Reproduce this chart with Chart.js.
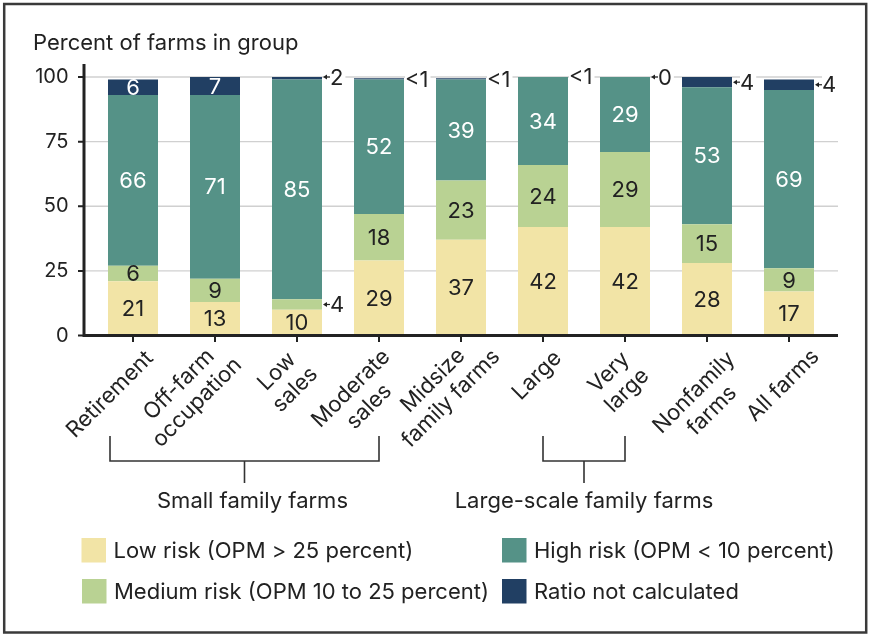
<!DOCTYPE html>
<html>
<head>
<meta charset="utf-8">
<script src="https://cdn.jsdelivr.net/npm/chart.js@4.4.1/dist/chart.umd.min.js"></script>
<style>
  html, body { margin: 0; padding: 0; background: #fff; }
  #wrap { width: 869px; height: 634px; }
</style>
</head>
<body>
<div id="wrap"><canvas id="riskChart" width="869" height="634"></canvas></div>
<script>
//==============================Data============================

const categories = [
    ['Retirement'],
    ['Off-farm', 'occupation'],
    ['Low', 'sales'],
    ['Moderate', 'sales'],
    ['Midsize', 'family farms'],
    ['Large'],
    ['Very', 'large'],
    ['Nonfamily', 'farms'],
    ['All farms']
];

const seriesNames = [
    'Low risk (OPM > 25 percent)',
    'Medium risk (OPM 10 to 25 percent)',
    'High risk (OPM < 10 percent)',
    'Ratio not calculated'
];

const lowRisk       = [21, 13, 10, 29, 37, 42, 42, 28, 17];
const mediumRisk    = [6, 9, 4, 18, 23, 24, 29, 15, 9];
const highRisk      = [66, 71, 85, 52, 39, 34, 29, 53, 69];
const notCalculated = [6, 7, 2, 0.5, 0.5, 0.5, 0, 4, 4];
const notCalculatedText = ['6', '7', '2', '<1', '<1', '<1', '0', '4', '4'];

const yTicks = [0, 25, 50, 75, 100];

const groups = [
    { text: 'Small family farms', from: 0, to: 3 },
    { text: 'Large-scale family farms', from: 5, to: 6 }
];

//==============================Look============================

const FONT = '"Inter", "Roboto", sans-serif';
const INK = '#222';
const colors = ['#f2e4a6', '#b9d293', '#559287', '#213f63'];
const textOnBar = [INK, INK, '#fff', '#fff'];

const AXIS_LEFT = 84;
const AXIS_RIGHT = 838;
const AXIS_Y = 335.5;

// where each rotated label block is centred, relative to its tick
const labelNudge = [
    [-23, 59], [-27, 58], [-11, 45], [-19, 62], [-19, 54],
    [-6, 40], [-7, 46], [-4, 66], [-6, 50]
];
const groupNudge = [{ left: -23, text: 8 }, { left: 0, text: 0 }];

//==============================Plugin============================

function drawRotated(c, lines, cx, cy) {
    const lh = 25.5;
    c.save();
    c.translate(cx, cy);
    c.rotate(-Math.PI / 4);
    c.textAlign = 'center';
    c.textBaseline = 'middle';
    lines.forEach((ln, j) => {
        c.fillText(ln, 0, (j - (lines.length - 1) / 2) * lh);
    });
    c.restore();
}

const overlay = {
    id: 'overlay',
    beforeDraw(chart) {
        const c = chart.ctx;
        c.save();
        c.fillStyle = '#fff';
        c.fillRect(0, 0, chart.width, chart.height);
        c.restore();
    },
    beforeDatasetsDraw(chart) {
        const c = chart.ctx;
        const y = chart.scales.y;
        c.save();
        c.strokeStyle = '#d0d0d0';
        c.lineWidth = 1.3;
        yTicks.forEach(v => {
            if (v === 0) return;
            const py = y.getPixelForValue(v);
            c.beginPath();
            c.moveTo(AXIS_LEFT, py);
            c.lineTo(AXIS_RIGHT, py);
            c.stroke();
        });
        c.restore();
    },
    afterDatasetsDraw(chart) {
        const c = chart.ctx;
        const x = chart.scales.x;
        const y = chart.scales.y;
        c.save();

        // axes
        c.strokeStyle = INK;
        c.lineWidth = 3;
        c.beginPath();
        c.moveTo(AXIS_LEFT, 64);
        c.lineTo(AXIS_LEFT, AXIS_Y + 1.5);
        c.moveTo(AXIS_LEFT - 1.5, AXIS_Y);
        c.lineTo(AXIS_RIGHT, AXIS_Y);
        c.stroke();

        c.lineWidth = 2;
        c.beginPath();
        yTicks.forEach(v => {
            const py = y.getPixelForValue(v);
            c.moveTo(78, py);
            c.lineTo(AXIS_LEFT, py);
        });
        categories.forEach((_, i) => {
            const px = x.getPixelForValue(i);
            c.moveTo(px, AXIS_Y);
            c.lineTo(px, 342);
        });
        c.stroke();

        // y tick labels and title
        c.fillStyle = INK;
        c.font = '20px ' + FONT;
        c.textAlign = 'right';
        c.textBaseline = 'middle';
        yTicks.forEach(v => c.fillText(String(v), 68.5, y.getPixelForValue(v)));

        c.font = '22px ' + FONT;
        c.textAlign = 'left';
        c.textBaseline = 'alphabetic';
        c.fillText('Percent of farms in group', 33, 50);

        // x labels
        c.font = '22px ' + FONT;
        categories.forEach((lines, i) => {
            const px = x.getPixelForValue(i);
            drawRotated(c, lines, px + labelNudge[i][0], AXIS_Y + labelNudge[i][1]);
        });

        // group brackets
        c.strokeStyle = '#333';
        c.lineWidth = 1.6;
        groups.forEach((g, k) => {
            const x0 = x.getPixelForValue(g.from) + groupNudge[k].left;
            const x1 = x.getPixelForValue(g.to);
            const mid = (x0 + x1) / 2;
            c.beginPath();
            c.moveTo(x0, 436);
            c.lineTo(x0, 461);
            c.lineTo(x1, 461);
            c.lineTo(x1, 436);
            c.moveTo(mid, 461);
            c.lineTo(mid, 483);
            c.stroke();
            c.textAlign = 'center';
            c.textBaseline = 'alphabetic';
            c.fillText(g.text, mid + groupNudge[k].text, 508);
        });

        // bar value labels
        c.font = '22px ' + FONT;
        chart.data.datasets.forEach((ds, d) => {
            const meta = chart.getDatasetMeta(d);
            meta.data.forEach((bar, i) => {
                const v = ds.data[i];
                const txt = d === 3 ? notCalculatedText[i] : String(v);
                const cy = (bar.y + bar.base) / 2;
                const right = bar.x + bar.width / 2;
                if (v >= 5) {
                    c.fillStyle = textOnBar[d];
                    c.textAlign = 'center';
                    c.textBaseline = 'middle';
                    c.fillText(txt, bar.x, cy + 1);
                    return;
                }
                // outside callout
                const arrow = txt.charAt(0) !== '<';
                const tx = arrow ? right + 8 : right + 1;
                const w = c.measureText(txt).width;
                c.fillStyle = '#fff';
                c.fillRect(tx, cy - 9, w + 2, 18);
                c.fillStyle = INK;
                c.textAlign = 'left';
                c.textBaseline = 'middle';
                c.fillText(txt, tx, cy + 1);
                if (arrow) {
                    c.strokeStyle = INK;
                    c.lineWidth = 1.2;
                    c.beginPath();
                    c.moveTo(right + 4, cy);
                    c.lineTo(right + 8, cy);
                    c.stroke();
                    c.beginPath();
                    c.moveTo(right + 1, cy);
                    c.lineTo(right + 5, cy - 2.5);
                    c.lineTo(right + 5, cy + 2.5);
                    c.closePath();
                    c.fill();
                }
            });
        });

        // legend
        const spots = [[81.5, 538], [82, 579], [502, 538], [502, 579]];
        c.font = '22px ' + FONT;
        c.textAlign = 'left';
        c.textBaseline = 'middle';
        seriesNames.forEach((name, k) => {
            const [lx, ly] = spots[k];
            c.fillStyle = colors[k];
            c.fillRect(lx, ly, 24.5, 24.5);
            c.fillStyle = INK;
            c.fillText(name, lx + 32, ly + 13);
        });

        // frame
        c.strokeStyle = '#3a3a3a';
        c.lineWidth = 2.5;
        c.strokeRect(4.2, 4, 862, 628.5);
        c.restore();
    }
};

//==============================Chart============================

const ctx = document.getElementById('riskChart');

new Chart(ctx, {
    type: 'bar',
    data: {
        labels: categories,
        datasets: [
            { label: seriesNames[0], data: lowRisk, backgroundColor: colors[0] },
            { label: seriesNames[1], data: mediumRisk, backgroundColor: colors[1] },
            { label: seriesNames[2], data: highRisk, backgroundColor: colors[2] },
            { label: seriesNames[3], data: notCalculated, backgroundColor: colors[3] }
        ]
    },
    options: {
        responsive: false,
        animation: false,
        devicePixelRatio: 1,
        layout: { padding: { left: 92, right: 39, top: 77, bottom: 634 - AXIS_Y } },
        datasets: {
            bar: { categoryPercentage: 1, barPercentage: 50 / 82, borderWidth: 0 }
        },
        scales: {
            x: { stacked: true, display: false },
            y: { stacked: true, display: false, min: 0, max: 100 }
        },
        plugins: {
            legend: { display: false },
            tooltip: { enabled: false }
        }
    },
    plugins: [overlay]
});
</script>
</body>
</html>
